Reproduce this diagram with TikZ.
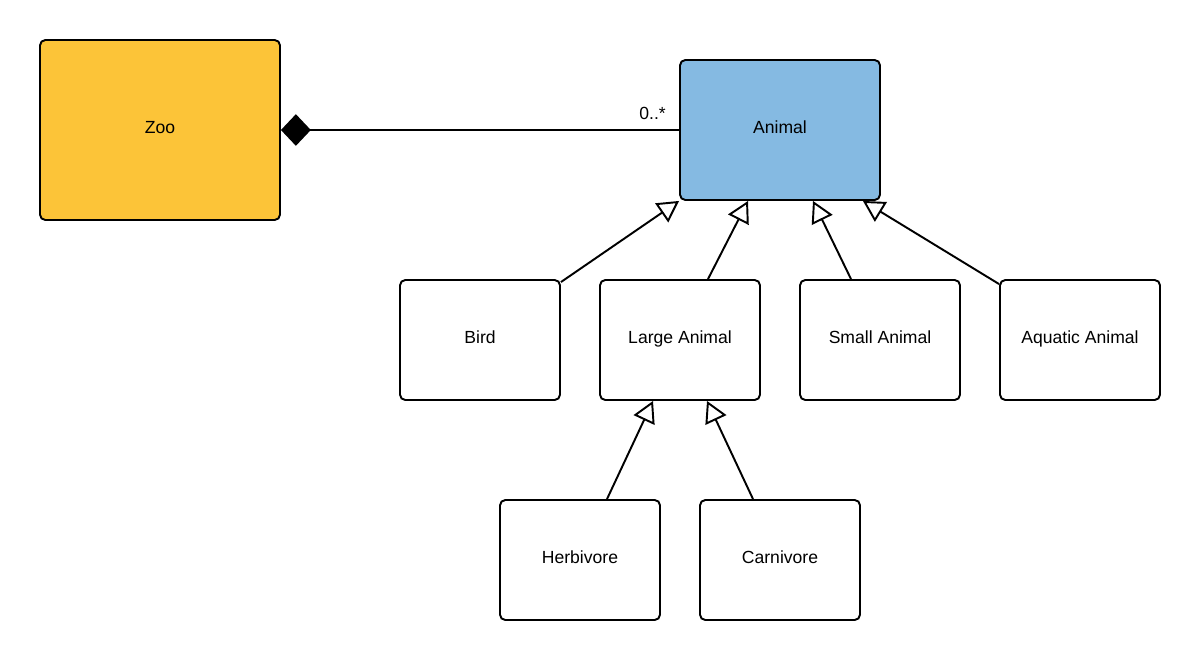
\documentclass[tikz,border=0pt]{standalone}
\usepackage{fontspec}
\setmainfont{Liberation Sans}
\usepackage{tikz}
\usetikzlibrary{calc,arrows.meta}
\definecolor{zooyellow}{HTML}{FCC438}
\definecolor{animalblue}{HTML}{85BAE2}
\newcommand{\tikzClassNode}[3]{
  \node[draw,rounded corners=3pt,fill=white,minimum width=3.2cm,minimum height=2.4cm] (#1) at (#2) {#3};
}

\begin{document}
\begin{tikzpicture}[x=0.02cm, y=-0.02cm, line width=1.1pt, font=\fontsize{10}{12}\selectfont,
    text height=7.2pt, text depth=3.2pt,
    inherit/.style={-{Triangle[open,length=12pt,width=13pt]}}]
  \useasboundingbox (0,0) rectangle (1200,660);

  \node[draw,rounded corners=3pt,fill=zooyellow,minimum width=4.8cm,minimum height=3.6cm] (zoo) at (160,130) {Zoo};
  \node[draw,rounded corners=3pt,fill=animalblue,minimum width=4cm,minimum height=2.8cm] (animal) at (780,130) {Animal};

  \tikzClassNode{bird}{480,340}{Bird}
  \tikzClassNode{large}{680,340}{Large Animal}
  \tikzClassNode{small}{880,340}{Small Animal}
  \tikzClassNode{aquatic}{1080,340}{Aquatic Animal}
  \tikzClassNode{herb}{580,560}{Herbivore}
  \tikzClassNode{carn}{780,560}{Carnivore}

  % composition
  \draw[{Diamond[length=17pt,width=18pt]}-] (zoo) -- (animal)
    node[pos=1,anchor=base east,inner sep=0pt,text height=,text depth=,xshift=-7pt,yshift=6.2pt] {0..*};

  % generalisation
  \draw[inherit] ($(bird.north east)+(0,3)$) -- (animal.south west);
  \draw[inherit] ($(large.north)+(28,0)$) -- ($(animal.south)+(-32,0)$);
  \draw[inherit] ($(small.north)+(-29,0)$) -- ($(animal.south)+(33,0)$);
  \draw[inherit] ($(aquatic.north west)+(0,5)$) -- ($(animal.south east)+(-18,0)$);
  \draw[inherit] ($(herb.north)+(27,0)$) -- ($(large.south)+(-27,0)$);
  \draw[inherit] ($(carn.north)+(-27,0)$) -- ($(large.south)+(27,0)$);
\end{tikzpicture}
\end{document}
